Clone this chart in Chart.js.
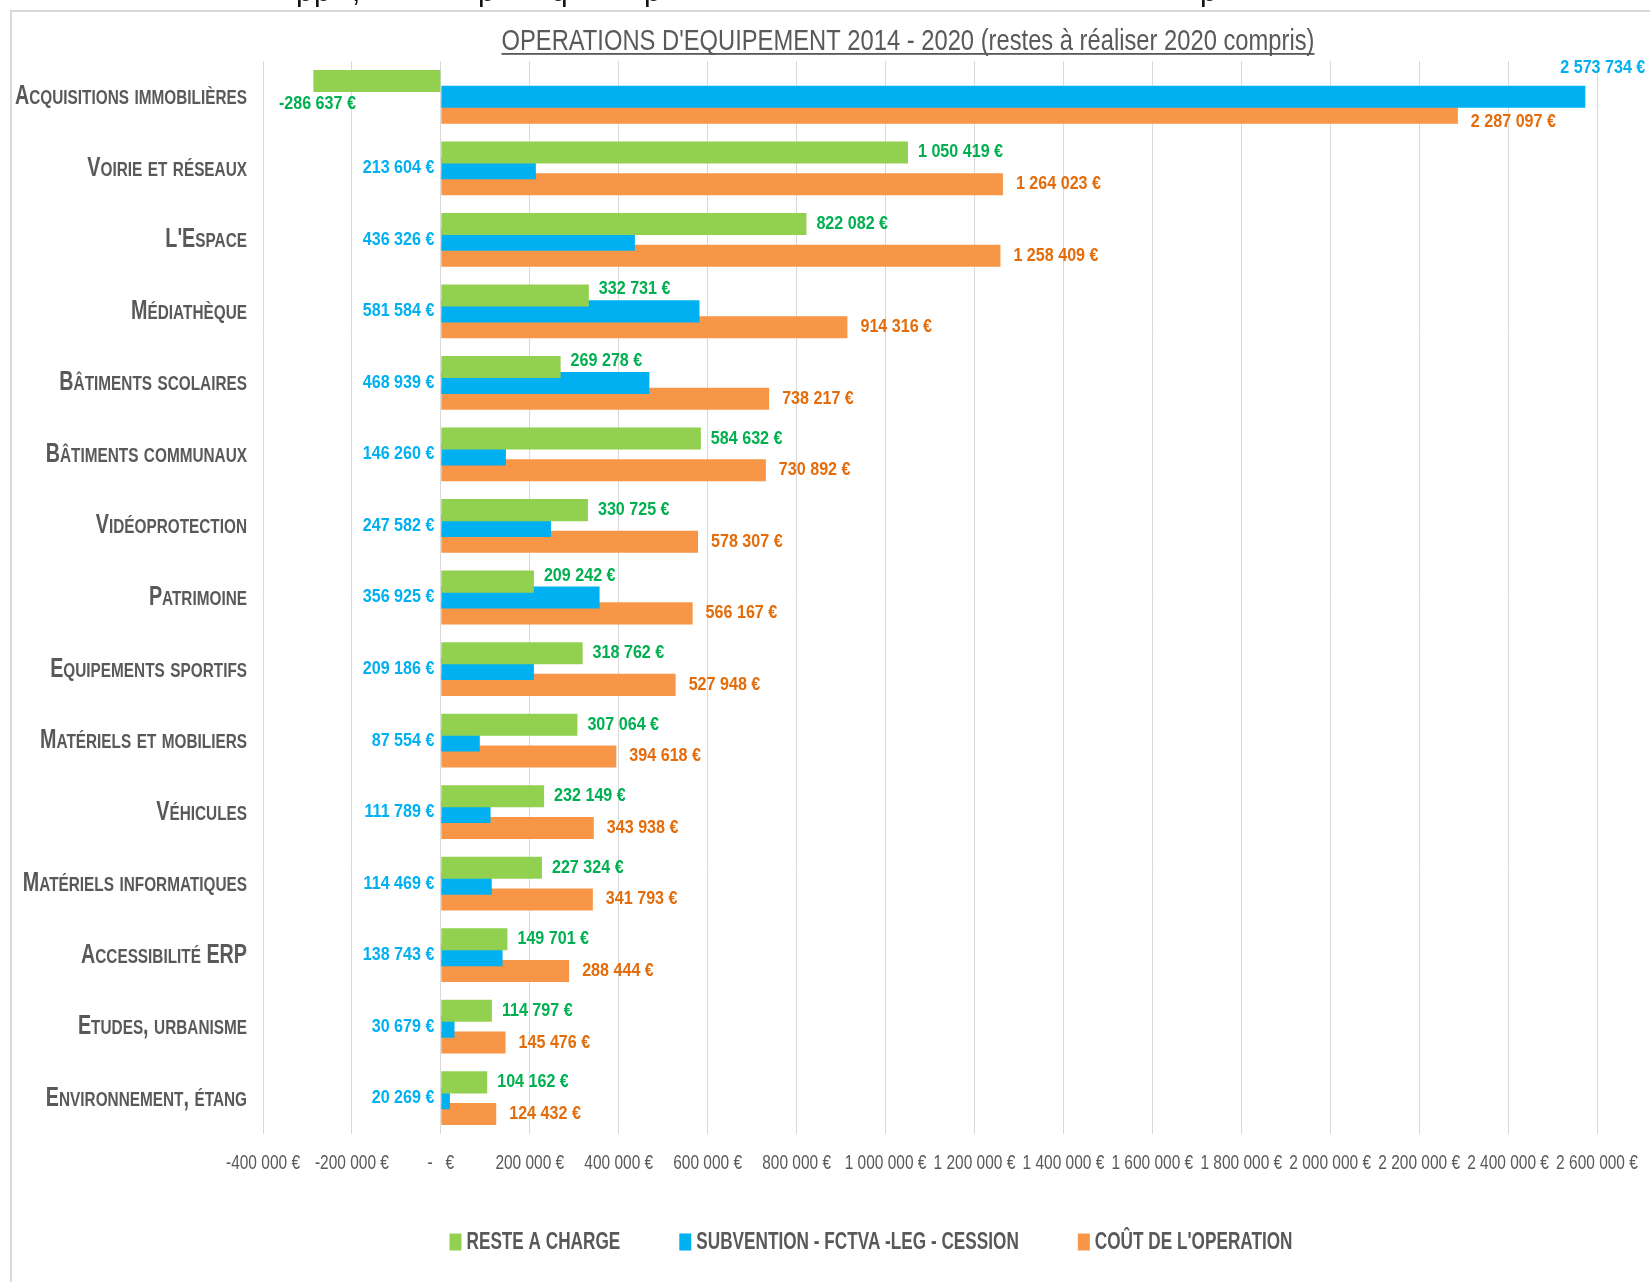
<!DOCTYPE html>
<html>
<head>
<meta charset="utf-8">
<script src="https://cdn.jsdelivr.net/npm/chart.js@4.4.1/dist/chart.umd.min.js"></script>
<style>
  html, body { margin: 0; padding: 0; background: #fff; }
</style>
</head>
<body>
<canvas id="myChart" width="1650" height="1282"></canvas>
<script>
'use strict'

let categories = ['Acquisitions immobilières', 'Voirie et réseaux', "L'Espace", 'Médiathèque',
  'Bâtiments scolaires', 'Bâtiments communaux', 'Vidéoprotection', 'Patrimoine',
  'Equipements sportifs', 'Matériels et mobiliers', 'Véhicules', 'Matériels informatiques',
  'Accessibilité ERP', 'Etudes, urbanisme', 'Environnement, étang'];
let resteACharge = [-286637, 1050419, 822082, 332731, 269278, 584632, 330725, 209242,
  318762, 307064, 232149, 227324, 149701, 114797, 104162];
let subventions = [2573734, 213604, 436326, 581584, 468939, 146260, 247582, 356925,
  209186, 87554, 111789, 114469, 138743, 30679, 20269];
let coutOperation = [2287097, 1264023, 1258409, 914316, 738217, 730892, 578307, 566167,
  527948, 394618, 343938, 341793, 288444, 145476, 124432];
let seriesNames = ['RESTE A CHARGE', 'SUBVENTION - FCTVA -LEG - CESSION', "COÛT DE L'OPERATION"];
let chartTitle = "OPERATIONS D'EQUIPEMENT 2014 - 2020 (restes à réaliser 2020 compris)";
let axisMin = -400000;
let axisMax = 2600000;
let axisStep = 200000;

let FONT = "'Liberation Sans', Arial, sans-serif";
let GREY = '#595959';
let barColors = ['#92d050', '#00b0f0', '#f79646'];
let textColors = ['#00b050', '#00b0f0', '#e46c0a'];

function euro(v) {
  if (v === 0) return '-   €';
  let s = Math.abs(Math.round(v)).toString().replace(/\B(?=(\d{3})+(?!\d))/g, ' ');
  return (v < 0 ? '-' : '') + s + ' €';
}

// the original uses a narrow font, so text is squeezed horizontally
function squeeze(ctx, font, sample, targetWidth) {
  ctx.font = font;
  return targetWidth / ctx.measureText(sample).width;
}
function narrowText(ctx, txt, x, y, sx) {
  ctx.save();
  ctx.translate(x, y);
  ctx.scale(sx, 1);
  ctx.fillText(txt, 0, 0);
  ctx.restore();
}

// small caps: capitals big, lower case letters as smaller capitals
let bigCaps = 'bold 27px ' + FONT;
let smallCaps = 'bold 21px ' + FONT;
function capsRuns(txt) {
  let runs = [];
  for (let ch of txt) {
    let small = ch !== ch.toUpperCase();
    let last = runs[runs.length - 1];
    if (last && last.small === small) last.t += ch.toUpperCase();
    else runs.push({ t: ch.toUpperCase(), small: small });
  }
  return runs;
}
function capsWidth(ctx, txt) {
  let w = 0;
  capsRuns(txt).forEach(function (r) {
    ctx.font = r.small ? smallCaps : bigCaps;
    w += ctx.measureText(r.t).width;
  });
  return w;
}
function drawCaps(ctx, txt, xRight, yBase, sx) {
  let x = xRight - capsWidth(ctx, txt) * sx;
  ctx.textAlign = 'left';
  ctx.textBaseline = 'alphabetic';
  capsRuns(txt).forEach(function (r) {
    ctx.font = r.small ? smallCaps : bigCaps;
    narrowText(ctx, r.t, x, yBase, sx);
    x += ctx.measureText(r.t).width * sx;
  });
}

// frame + title
let framePlugin = {
  id: 'frame',
  beforeDraw(chart) {
    let ctx = chart.ctx;
    ctx.save();
    // bottom of the cut text line above the chart
    ctx.fillStyle = '#111';
    ctx.font = 'normal 30px ' + FONT;
    ctx.textBaseline = 'alphabetic';
    [[296, 'p'], [314, 'p'], [352, ','], [478, 'p'], [551, 'q'], [644, 'p'], [1200, 'p']].forEach(function (g) {
      ctx.fillText(g[1], g[0], 1);
    });
    ctx.strokeStyle = '#d9d9d9';
    ctx.lineWidth = 2;
    ctx.strokeRect(11, 11, 1700, 1400);
    let a = chart.chartArea;
    let font = 'normal 30px ' + FONT;
    let sx = squeeze(ctx, font, chartTitle, 813);
    ctx.fillStyle = GREY;
    ctx.textAlign = 'center';
    let cx = (a.left + a.right) / 2 - 22;
    narrowText(ctx, chartTitle, cx, 50, sx);
    ctx.fillRect(cx - 813 / 2, 53, 813, 1.8);
    ctx.restore();
  }
};

// axis tick labels
let tickPlugin = {
  id: 'tickLabels',
  afterDraw(chart) {
    let ctx = chart.ctx;
    ctx.save();
    ctx.fillStyle = GREY;

    let ys = chart.scales.y;
    let syx = 232 / capsWidth(ctx, categories[0]);
    categories.forEach(function (c, i) {
      drawCaps(ctx, c, ys.right - 16, ys.getPixelForTick(i) + 7.5, syx);
    });

    let xs = chart.scales.x;
    let xFont = 'normal 20px ' + FONT;
    let sxx = squeeze(ctx, xFont, euro(-400000), 74);
    ctx.textAlign = 'center';
    ctx.textBaseline = 'middle';
    xs.ticks.forEach(function (t) {
      narrowText(ctx, euro(t.value), xs.getPixelForValue(t.value), xs.top + 29, sxx);
    });
    ctx.restore();
  }
};

// value labels next to the bars
let labelPlugin = {
  id: 'valueLabels',
  afterDatasetsDraw(chart) {
    let ctx = chart.ctx;
    ctx.save();
    let font = 'bold 18px ' + FONT;
    let sx = squeeze(ctx, font, euro(-286637), 77);
    ctx.textBaseline = 'middle';
    for (let d = 0; d < 3; d++) {
      let meta = chart.getDatasetMeta(d);
      ctx.fillStyle = textColors[d];
      meta.data.forEach(function (bar, i) {
        let v = chart.data.datasets[d].data[i];
        let txt = euro(v);
        if (d === 0) {
          if (v < 0) {
            ctx.textAlign = 'center';
            narrowText(ctx, txt, bar.x + 4, bar.y + 23, sx);
          } else {
            ctx.textAlign = 'left';
            let dy = subventions[i] > v ? -6 : 0;
            narrowText(ctx, txt, bar.x + 10, bar.y + dy, sx);
          }
        } else if (d === 1) {
          ctx.textAlign = 'right';
          if (v > coutOperation[i]) {
            narrowText(ctx, txt, bar.x + 60, bar.y - 29, sx);
          } else {
            narrowText(ctx, txt, bar.base - 7, bar.y, sx);
          }
        } else {
          ctx.textAlign = 'left';
          let dy = subventions[i] > v ? 9 : 0;
          narrowText(ctx, txt, bar.x + 13, bar.y + dy, sx);
        }
      });
    }
    ctx.restore();
  }
};

// legend at the bottom
let legendPlugin = {
  id: 'bottomLegend',
  afterDraw(chart) {
    let ctx = chart.ctx;
    ctx.save();
    let font = 'bold 23px ' + FONT;
    let sx = squeeze(ctx, font, seriesNames.join(''), 674);
    ctx.textBaseline = 'middle';
    ctx.textAlign = 'left';
    let boxW = 12, boxH = 17, gap = 5, itemGap = 59;
    let widths = seriesNames.map(n => boxW + gap + ctx.measureText(n).width * sx);
    let total = widths.reduce((s, w) => s + w, 0) + itemGap * 2;
    let x = 871 - total / 2;
    let y = 1242;
    chart.data.datasets.forEach(function (ds, k) {
      ctx.fillStyle = ds.backgroundColor;
      ctx.fillRect(x, y - boxH / 2, boxW, boxH);
      ctx.fillStyle = GREY;
      narrowText(ctx, ds.label, x + boxW + gap, y + 1, sx);
      x += widths[k] + itemGap;
    });
    ctx.restore();
  }
};

Chart.defaults.font.family = FONT;

let ctx = document.getElementById('myChart').getContext('2d');
let chart = new Chart(ctx, {
  type: 'bar',
  data: {
    labels: categories,
    datasets: [{
      label: seriesNames[0],
      backgroundColor: barColors[0],
      data: resteACharge
    }, {
      label: seriesNames[1],
      backgroundColor: barColors[1],
      data: subventions
    }, {
      label: seriesNames[2],
      backgroundColor: barColors[2],
      data: coutOperation
    }]
  },
  options: {
    indexAxis: 'y',
    responsive: false,
    animation: false,
    categoryPercentage: 0.665,
    barPercentage: 1.39,
    layout: { padding: { top: 61, right: 53, bottom: 88, left: 0 } },
    plugins: {
      legend: { display: false },
      title: { display: false },
      tooltip: { enabled: false }
    },
    scales: {
      x: {
        min: axisMin,
        max: axisMax,
        grid: { color: '#d9d9d9', drawTicks: false },
        border: { display: false },
        ticks: { stepSize: axisStep, display: false },
        afterFit: function (scale) { scale.height = 60; }
      },
      y: {
        grid: { display: false, drawTicks: false },
        border: { display: false },
        ticks: { display: false },
        afterFit: function (scale) { scale.width = 263; }
      }
    }
  },
  plugins: [framePlugin, tickPlugin, labelPlugin, legendPlugin]
});
</script>
</body>
</html>
